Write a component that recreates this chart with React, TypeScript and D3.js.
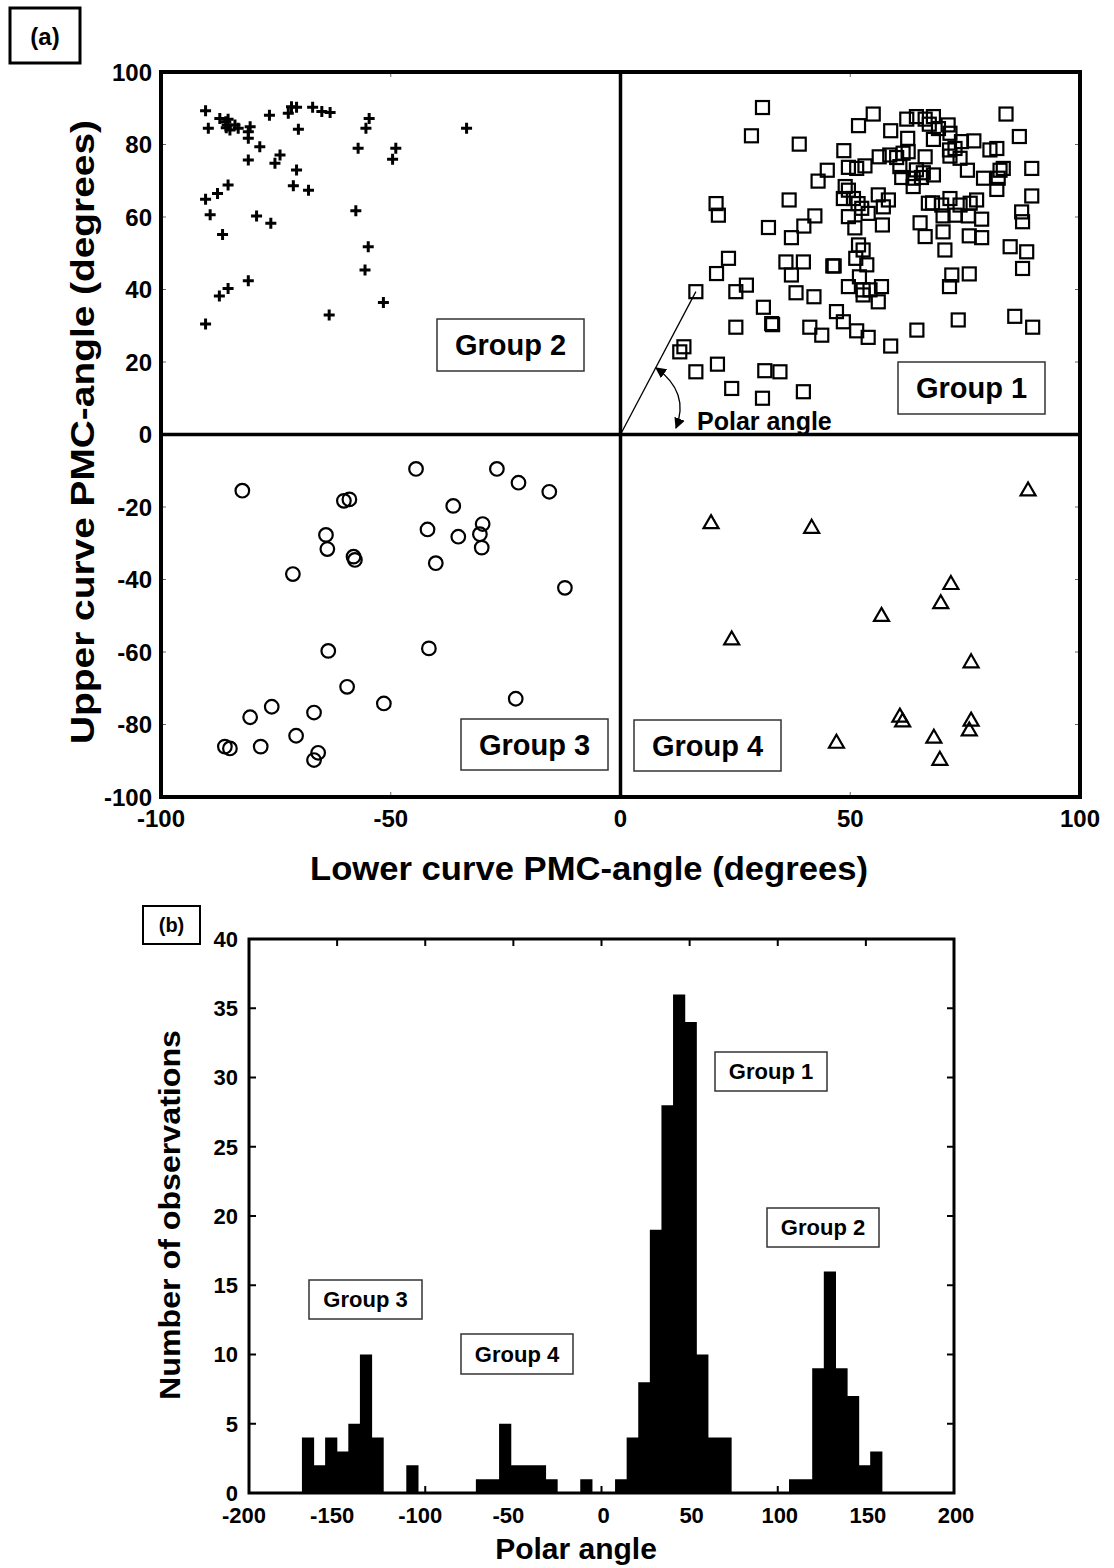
import React from "react";
import * as d3 from "d3";

// panel (a): [lower PMC-angle, upper PMC-angle]
const group1: [number, number][] = [
  [30.9, 90.2], [28.5, 82.4], [38.9, 80.1], [55.0, 88.4], [51.8, 85.2], [58.8, 83.8],
  [62.3, 87.0], [64.4, 87.7], [66.3, 87.0], [68.1, 87.7], [67.2, 85.6], [69.2, 84.4],
  [71.3, 85.4], [71.7, 83.1], [83.9, 88.4], [86.8, 82.2], [62.5, 81.7], [68.1, 81.4],
  [74.2, 80.8], [76.9, 81.0], [72.8, 78.9], [71.6, 78.5], [80.4, 78.5], [81.9, 78.9],
  [48.6, 78.3], [56.3, 76.6], [58.6, 77.1], [60.1, 76.4], [61.5, 77.6], [62.6, 78.0],
  [66.3, 76.6], [71.7, 76.8], [73.9, 76.2], [45.0, 72.9], [43.0, 69.9], [49.6, 73.7],
  [51.4, 73.4], [53.2, 74.1], [60.8, 73.9], [64.4, 73.0], [65.9, 72.2], [68.1, 71.6],
  [61.2, 70.9], [63.7, 70.7], [65.5, 70.9], [63.7, 68.4], [75.5, 72.9], [79.0, 70.7],
  [82.6, 72.9], [83.3, 73.4], [82.2, 70.7], [81.9, 67.6], [89.5, 73.4], [89.5, 65.8],
  [48.9, 68.4], [49.6, 67.4], [48.5, 65.1], [50.7, 65.1], [51.7, 63.7], [52.5, 62.4],
  [53.9, 61.0], [56.1, 66.1], [58.3, 64.7], [57.2, 62.8], [49.6, 60.1], [51.0, 57.0],
  [57.0, 57.8], [36.7, 64.7], [20.8, 63.7], [21.3, 60.5], [42.3, 60.3], [39.9, 57.5],
  [32.2, 57.1], [37.2, 54.3], [65.2, 58.4], [66.3, 54.6], [67.9, 63.9], [67.0, 63.8],
  [69.9, 63.3], [71.7, 65.1], [73.9, 63.3], [76.1, 63.8], [77.5, 64.7], [72.8, 60.5],
  [75.7, 60.3], [78.6, 59.4], [70.2, 60.3], [70.2, 55.9], [75.9, 54.8], [78.6, 54.3],
  [87.3, 61.4], [87.5, 58.7], [70.6, 50.9], [84.8, 51.8], [88.4, 50.4], [87.5, 45.8],
  [51.8, 52.3], [52.8, 50.9], [51.2, 48.6], [53.6, 46.8], [52.0, 43.5], [49.6, 40.8],
  [52.8, 39.9], [54.3, 39.9], [56.8, 40.8], [56.1, 36.6], [52.8, 38.5], [72.1, 44.0],
  [75.9, 44.3], [71.6, 40.8], [23.5, 48.6], [20.9, 44.4], [27.4, 41.2], [25.1, 39.4],
  [16.4, 39.4], [36.0, 47.6], [39.8, 47.6], [37.2, 44.0], [46.2, 46.5], [46.5, 46.5],
  [38.2, 39.1], [42.1, 38.0], [31.1, 35.1], [32.9, 30.6], [33.1, 30.3], [25.1, 29.6],
  [47.0, 33.9], [48.5, 31.1], [51.4, 28.6], [53.9, 26.8], [41.2, 29.6], [43.8, 27.4],
  [58.8, 24.4], [64.5, 28.8], [73.5, 31.6], [85.8, 32.6], [89.7, 29.6], [13.8, 24.2],
  [12.9, 22.8], [16.4, 17.3], [21.1, 19.4], [31.4, 17.6], [34.7, 17.3], [24.2, 12.7],
  [30.9, 10.0], [39.8, 11.8],
];

const group2: [number, number][] = [
  [-90.3, 89.3], [-89.7, 84.5], [-87.2, 87.2], [-85.9, 86.3], [-85.4, 87.0], [-85.6, 85.4],
  [-85.0, 84.0], [-83.9, 85.4], [-85.8, 84.6], [-83.2, 84.5], [-80.6, 84.9], [-81.0, 83.5],
  [-81.0, 81.7], [-78.5, 79.4], [-81.0, 75.7], [-76.4, 88.1], [-74.1, 77.1], [-75.2, 74.8],
  [-70.5, 73.0], [-71.2, 68.6], [-67.9, 67.4], [-72.3, 88.6], [-71.6, 90.4], [-70.5, 90.3],
  [-70.1, 84.2], [-67.0, 90.3], [-65.0, 89.1], [-63.2, 88.8], [-54.7, 87.2], [-55.4, 84.5],
  [-57.1, 79.0], [-48.9, 79.0], [-49.6, 75.9], [-33.5, 84.5], [-90.3, 64.9], [-87.7, 66.5],
  [-85.4, 68.8], [-89.3, 60.6], [-79.2, 60.3], [-76.1, 58.3], [-86.6, 55.2], [-57.6, 61.7],
  [-54.9, 51.8], [-55.6, 45.4], [-85.4, 40.3], [-87.3, 38.2], [-81.0, 42.4], [-51.6, 36.4],
  [-63.4, 33.0], [-90.3, 30.5],
];

const group3: [number, number][] = [
  [-82.3, -15.5], [-60.2, -18.3], [-59.0, -17.9], [-64.1, -27.7], [-63.8, -31.6], [-58.1, -33.7],
  [-57.8, -34.6], [-71.3, -38.5], [-44.5, -9.5], [-36.4, -19.7], [-42.0, -26.2], [-35.3, -28.2],
  [-30.0, -24.7], [-30.6, -27.5], [-30.2, -31.2], [-40.2, -35.5], [-26.9, -9.5], [-22.2, -13.3],
  [-15.5, -15.8], [-12.1, -42.3], [-63.6, -59.7], [-41.7, -59.0], [-59.5, -69.6], [-51.5, -74.2],
  [-22.8, -72.9], [-75.9, -75.1], [-80.6, -78.0], [-66.7, -76.7], [-70.6, -83.1], [-86.1, -86.1],
  [-85.0, -86.6], [-78.3, -86.1], [-65.8, -87.8], [-66.7, -89.8],
];

const group4: [number, number][] = [
  [88.7, -15.3], [19.7, -24.3], [41.6, -25.6], [71.9, -41.1], [69.7, -46.4], [56.8, -49.9],
  [24.2, -56.4], [76.3, -62.7], [60.8, -77.7], [61.4, -79.0], [76.3, -78.8], [75.9, -81.5],
  [68.2, -83.5], [47.0, -84.9], [69.5, -89.6],
];

// panel (b): histogram of polar angle
const binStart = -169.8;
const binWidth = 6.58;
const histCounts = [
  4, 2, 4, 3, 5, 10, 4, 0, 0, 2,
  0, 0, 0, 0, 0, 1, 1, 5, 2, 2,
  2, 1, 0, 0, 1, 0, 0, 1, 4, 8,
  19, 28, 36, 34, 10, 4, 4, 0, 0, 0,
  0, 0, 1, 1, 9, 16, 9, 7, 2, 3,
];

const aXTicks = [-100, -50, 0, 50, 100];
const aYTicks = [-100, -80, -60, -40, -20, 0, 20, 40, 60, 80, 100];
const bXTicks = [-200, -150, -100, -50, 0, 50, 100, 150, 200];
const bYTicks = [0, 5, 10, 15, 20, 25, 30, 35, 40];

const FONT = "'Liberation Sans', Arial, Helvetica, sans-serif";

const xA = d3.scaleLinear().domain([-100, 100]).range([161, 1080]);
const yA = d3.scaleLinear().domain([-100, 100]).range([797, 72]);
const xB = d3.scaleLinear().domain([-200, 200]).range([249, 954]);
const yB = d3.scaleLinear().domain([0, 40]).range([1493, 939]);

const LabelBox = ({ x, y, w, h, text, size }) => (
  <g>
    <rect x={x} y={y} width={w} height={h} fill="white" stroke="#333" strokeWidth={1.5} />
    <text x={x + w / 2} y={y + h / 2} dy="0.36em" textAnchor="middle" fontSize={size} fontWeight="bold">
      {text}
    </text>
  </g>
);

const App = () => {
  const triangle = "M0,-7.5L7.5,5.5L-7.5,5.5Z";
  // outline of the histogram as one step path, so adjacent bins have no seams
  const histPath = d3.path();
  histCounts.forEach((c, i) => {
    if (c <= 0) return;
    const x0 = xB(binStart + i * binWidth);
    const x1 = xB(binStart + (i + 1) * binWidth);
    histPath.rect(x0 - 0.3, yB(c), x1 - x0 + 0.6, yB(0) - yB(c));
  });
  return (
    <svg width={1114} height={1568} style={{ position: "absolute", left: 0, top: 0, background: "white" }} fontFamily={FONT}>
      <defs>
        <marker id="arr" viewBox="0 0 10 10" refX={9} refY={5} markerWidth={11} markerHeight={11}
          markerUnits="userSpaceOnUse" orient="auto-start-reverse">
          <path d="M0,0L10,5L0,10Z" fill="black" />
        </marker>
      </defs>
      <rect width={1114} height={1568} fill="white" />

      {/* ---------- panel (a) ---------- */}
      <rect x={10} y={8} width={70} height={55} fill="white" stroke="black" strokeWidth={3} />
      <text x={45} y={36} dy="0.36em" textAnchor="middle" fontSize={24} fontWeight="bold">(a)</text>

      {/* ticks */}
      <g stroke="#666" strokeWidth={1}>
        {aXTicks.map((t) => (
          <g key={"ax" + t}>
            <line x1={xA(t)} x2={xA(t)} y1={yA(100)} y2={yA(100) + 5} />
            <line x1={xA(t)} x2={xA(t)} y1={yA(-100)} y2={yA(-100) - 5} />
          </g>
        ))}
        {aYTicks.map((t) => (
          <g key={"ay" + t}>
            <line x1={xA(-100)} x2={xA(-100) + 5} y1={yA(t)} y2={yA(t)} />
            <line x1={xA(100)} x2={xA(100) - 5} y1={yA(t)} y2={yA(t)} />
          </g>
        ))}
      </g>

      {/* markers */}
      <g fill="none" stroke="black" strokeWidth={2.2}>
        {group1.map((d, i) => (
          <rect key={"g1" + i} x={xA(d[0]) - 6.5} y={yA(d[1]) - 6.5} width={13} height={13} />
        ))}
        {group3.map((d, i) => (
          <circle key={"g3" + i} cx={xA(d[0])} cy={yA(d[1])} r={6.8} />
        ))}
        {group4.map((d, i) => (
          <path key={"g4" + i} d={triangle} transform={`translate(${xA(d[0])},${yA(d[1])})`} />
        ))}
      </g>
      <g stroke="black" strokeWidth={3}>
        {group2.map((d, i) => (
          <path key={"g2" + i} d="M-5.5,0H5.5M0,-5.5V5.5" transform={`translate(${xA(d[0])},${yA(d[1])})`} />
        ))}
      </g>

      {/* polar angle annotation */}
      <line x1={xA(0)} y1={yA(0)} x2={xA(16.4)} y2={yA(39.4)} stroke="black" strokeWidth={1.3} />
      <path d="M656,368 Q690,392 676,428" fill="none" stroke="black" strokeWidth={1.3}
        markerStart="url(#arr)" markerEnd="url(#arr)" />
      <text x={697} y={430} fontSize={25} fontWeight="bold">Polar angle</text>

      {/* frame and zero lines */}
      <rect x={xA(-100)} y={yA(100)} width={xA(100) - xA(-100)} height={yA(-100) - yA(100)}
        fill="none" stroke="black" strokeWidth={4} />
      <line x1={xA(0)} x2={xA(0)} y1={yA(100)} y2={yA(-100)} stroke="black" strokeWidth={3.5} />
      <line x1={xA(-100)} x2={xA(100)} y1={yA(0)} y2={yA(0)} stroke="black" strokeWidth={3.5} />

      <LabelBox x={437} y={319} w={147} h={52} text="Group 2" size={29} />
      <LabelBox x={898} y={362} w={147} h={52} text="Group 1" size={29} />
      <LabelBox x={461} y={719} w={147} h={51} text="Group 3" size={29} />
      <LabelBox x={634} y={720} w={147} h={51} text="Group 4" size={29} />

      {/* tick labels */}
      <g fontSize={24} fontWeight="bold">
        {aYTicks.map((t) => (
          <text key={"aly" + t} x={152} y={yA(t)} dy="0.36em" textAnchor="end">{t}</text>
        ))}
        {aXTicks.map((t) => (
          <text key={"alx" + t} x={xA(t)} y={818} dy="0.36em" textAnchor="middle">{t}</text>
        ))}
      </g>
      <text x={589} y={868} dy="0.36em" textAnchor="middle" fontSize={33} fontWeight="bold"
        textLength={558} lengthAdjust="spacingAndGlyphs">Lower curve PMC-angle (degrees)</text>
      <text transform={`translate(82,432) rotate(-90)`} dy="0.36em" textAnchor="middle" fontSize={34}
        fontWeight="bold" textLength={624} lengthAdjust="spacingAndGlyphs">Upper curve PMC-angle (degrees)</text>

      {/* ---------- panel (b) ---------- */}
      <rect x={143} y={906} width={57} height={38} fill="white" stroke="black" strokeWidth={2} />
      <text x={171.5} y={925} dy="0.36em" textAnchor="middle" fontSize={20} fontWeight="bold">(b)</text>

      <path d={histPath.toString()} fill="black" stroke="none" />

      <g stroke="black" strokeWidth={2}>
        {bXTicks.map((t) => (
          <g key={"bx" + t}>
            <line x1={xB(t)} x2={xB(t)} y1={yB(0)} y2={yB(0) - 7} />
            <line x1={xB(t)} x2={xB(t)} y1={yB(40)} y2={yB(40) + 7} />
          </g>
        ))}
        {bYTicks.map((t) => (
          <g key={"by" + t}>
            <line x1={xB(-200)} x2={xB(-200) + 7} y1={yB(t)} y2={yB(t)} />
            <line x1={xB(200)} x2={xB(200) - 7} y1={yB(t)} y2={yB(t)} />
          </g>
        ))}
      </g>
      <rect x={xB(-200)} y={yB(40)} width={xB(200) - xB(-200)} height={yB(0) - yB(40)}
        fill="none" stroke="black" strokeWidth={3} />

      <LabelBox x={715} y={1052} w={112} h={39} text="Group 1" size={22} />
      <LabelBox x={767} y={1208} w={112} h={39} text="Group 2" size={22} />
      <LabelBox x={309} y={1280} w={113} h={39} text="Group 3" size={22} />
      <LabelBox x={461} y={1334} w={112} h={40} text="Group 4" size={22} />

      <g fontSize={22} fontWeight="bold">
        {bYTicks.map((t) => (
          <text key={"bly" + t} x={238} y={yB(t)} dy="0.36em" textAnchor="end">{t}</text>
        ))}
        {bXTicks.map((t) => (
          <text key={"blx" + t} x={xB(t) + (t < 0 ? -5 : 2)} y={1515} dy="0.36em" textAnchor="middle">{t}</text>
        ))}
      </g>
      <text x={576} y={1548} dy="0.36em" textAnchor="middle" fontSize={30} fontWeight="bold">Polar angle</text>
      <text transform={`translate(170,1215) rotate(-90)`} dy="0.36em" textAnchor="middle" fontSize={29}
        fontWeight="bold" textLength={370} lengthAdjust="spacingAndGlyphs">Number of observations</text>
    </svg>
  );
};

export default App;
